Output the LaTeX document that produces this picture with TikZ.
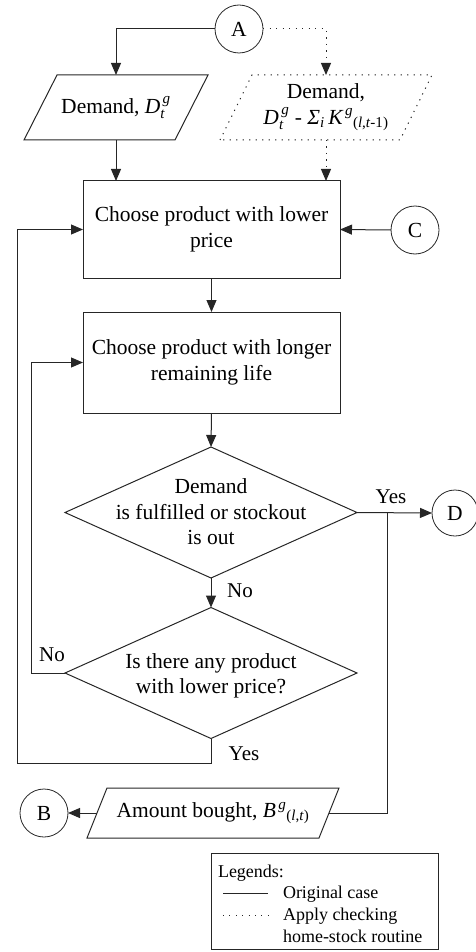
\documentclass[tikz,border=0pt]{standalone}
\usepackage{amsmath}
\usepackage{fontspec}
\setmainfont{Liberation Serif}
\usetikzlibrary{arrows.meta,shapes.geometric,calc}

\newcommand\vi[1]{\textit{#1}}

\begin{document}
\begin{tikzpicture}[x=1pt,y=-1pt,
  every node/.style={font=\fontsize{21.5}{25.5}\selectfont, inner sep=0pt, outer sep=0pt},
  line/.style={line width=1pt, draw=black!85},
  arr/.style={line, -{Triangle[length=12pt,width=10pt]}},
  dots/.style={dash pattern=on 1.2pt off 5.3pt},
  proc/.style={draw=black!85, line width=1pt, minimum width=257pt, align=center},
  conn/.style={draw=black!85, circle, line width=0.8pt, minimum size=48pt},
  dec/.style={draw=black!85, diamond, line width=1pt, minimum width=292pt, minimum height=131pt},
  io/.style={minimum height=65pt, align=center},
  lbl/.style={font=\fontsize{21}{25}\selectfont},
  legtxt/.style={font=\fontsize{18}{21.5}\selectfont, anchor=base west},
]
\useasboundingbox (0,0) rectangle (475,952);

% connectors (circles)
\node[conn] (A) at (239,29) {A};
\node[conn] (C) at (415,230) {C};
\node[conn, minimum size=46pt] (D) at (455,513) {D};
\node[conn] (B) at (44,813) {B};

% input parallelograms
\node[io, minimum width=151pt] (p1) at (116,107.5) {Demand, $\vi{D}_{\vi{t}}^{\,\vi{g}}$};
\draw[line] ($(p1.south west)+(-16.5,0)$) -- ($(p1.north west)+(16.5,0)$)
  -- ($(p1.north east)+(16.5,0)$) -- ($(p1.south east)+(-16.5,0)$) -- cycle;

\node[io, minimum width=180pt] (p2) at (326,107.5)
  {Demand,\\$\vi{D}_{\vi{t}}^{\,\vi{g}}\text{ - }\vi{Σ}_{\vi{i}}\,\vi{K}^{\,\vi{g}}{}_{\text{(\vi{l},\vi{t}-1)}}$};
\draw[line, dots] ($(p2.south west)+(-16,0)$) -- ($(p2.north west)+(16,0)$)
  -- ($(p2.north east)+(16,0)$) -- ($(p2.south east)+(-16,0)$) -- cycle;

% process boxes
\node[proc, minimum height=97pt] (b1) at (211.5,229.5) {Choose product with lower\\price};
\node[proc, minimum height=101pt] (b2) at (211.5,362.5) {Choose product with longer\\remaining life};

% decisions
\node[dec] (d1) at (211,512.5) {};
\node[align=center] (d1t) at (211,512) {Demand\\is fulfilled or stockout\\is out};
\node[dec] (d2) at (211,673) {};
\node[align=center] (d2t) at (211,676) {Is there any product\\with lower price?};

% output parallelogram
\node[io, minimum width=232pt, minimum height=50pt] (pB) at (213,813)
  {Amount bought, $\vi{B}^{\,\vi{g}}{}_{\text{(\vi{l},\vi{t})}}$};
\draw[line] ($(pB.south west)+(-10,0)$) -- ($(pB.north west)+(10,0)$)
  -- ($(pB.north east)+(10,0)$) -- ($(pB.south east)+(-10,0)$) -- cycle;

% routing points
\coordinate (yb) at (387,512.5);
\coordinate (li) at (31,673);
\coordinate (lo) at (17,763);

% flow
\draw[arr] (A.west) -| (p1.north);
\draw[arr, dots] (A.east) -| (p2.north);
\draw[arr] (p1.south) -- (p1.south |- b1.north);
\draw[arr, dots] (p2.south) -- (p2.south |- b1.north);
\draw[arr] (C.west) -- (b1.east);
\draw[arr] (b1.south) -- (b2.north);
\draw[arr] (b2.south) -- (d1.north);
\draw[arr] (d1.east) -- (D.west);
\draw[arr] (d1.south) -- (d2.north);
\draw[line] (yb) |- (pB.east);
\draw[arr] (pB.west) -- (B.east);
\draw[arr] (d2.west) -- (li) |- (b2.west);
\draw[arr] (d2.south) |- (lo) |- (b1.west);

% branch labels
\node[lbl] (yes1) at (391,497) {Yes};
\node[lbl] (no1) at (240,591) {No};
\node[lbl] (no2) at (52,655) {No};
\node[lbl] (yes2) at (244,754) {Yes};

% legend
\node[draw=black!85, line width=0.8pt, minimum width=227pt, minimum height=96pt] (leg) at (324.5,901) {};
\node[legtxt] (lg0) at (218,877) {Legends:};
\node[legtxt] (lg1) at (283,898) {Original case};
\node[legtxt] (lg2) at (283,920) {Apply checking};
\node[legtxt] (lg3) at (283,942) {home-stock routine};
\draw[line] (223,893) -- (268,893);
\draw[line, dash pattern=on 0.9pt off 5.5pt] (223,915) -- (268,915);
\end{tikzpicture}
\end{document}
